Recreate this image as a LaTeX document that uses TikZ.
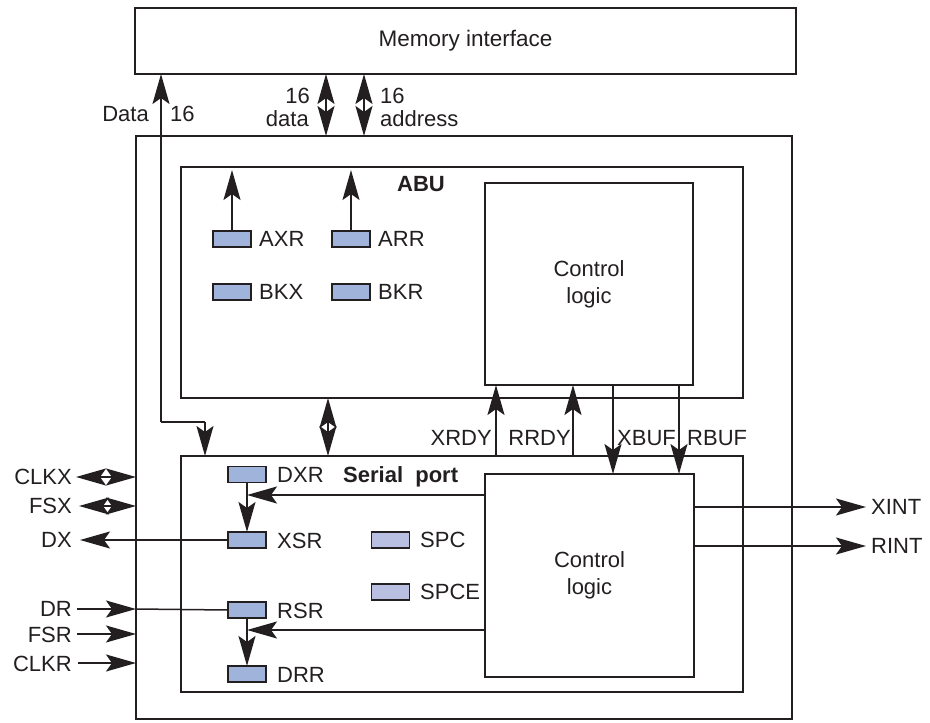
\documentclass[tikz,border=0pt]{standalone}
\usepackage{fontspec}
\setmainfont{Liberation Sans}
\usetikzlibrary{arrows.meta}
\definecolor{ink}{HTML}{231F20}
\definecolor{regfill}{HTML}{9FB3DB}
\definecolor{ctlfill}{HTML}{B9BFE1}
\begin{document}
\begin{tikzpicture}[x=1pt,y=-1pt,
  >={Stealth[length=30pt,width=17pt,inset=6pt]},
  every node/.style={font=\fontsize{22}{27}\selectfont, text=ink},
  box/.style={draw=ink, line width=1.7pt, rectangle, inner sep=0pt, outer sep=0pt},
  reg/.style={draw=ink, line width=1.4pt, fill=regfill, minimum width=38pt, minimum height=16pt, inner sep=0pt, outer sep=0pt},
  ctlreg/.style={reg, fill=ctlfill},
  lbl/.style={inner sep=0pt, anchor=west},
  rlbl/.style={inner sep=0pt, anchor=east},
  wire/.style={draw=ink, line width=1.5pt}]
\useasboundingbox (0,0) rectangle (930,723);
\fill[white] (0,0) rectangle (930,723);

% main boxes
\node[box, minimum width=661pt, minimum height=66pt, font=\fontsize{22.5}{27}\selectfont] (mem) at (465.5,41) {Memory interface};
\node[box, minimum width=656pt, minimum height=583pt] (outer) at (464,427.5) {};
\node[box, minimum width=562pt, minimum height=231pt] (abu) at (462,282.5) {};
\node[box, minimum width=208pt, minimum height=202pt, align=center] (actl) at (589,284) {Control\\logic};
\node[box, minimum width=562pt, minimum height=236pt] (sp) at (462,574) {};
\node[box, minimum width=209pt, minimum height=203pt, align=center] (sctl) at (589.5,575.5) {Control\\logic};

\node[inner sep=0pt, font=\bfseries\fontsize{22}{27}\selectfont] (abulbl) at (421,184) {ABU};
\node[lbl, font=\bfseries\fontsize{22}{27}\selectfont] (splbl) at (343,477) {Serial\ \ port};

% registers ABU
\node[reg] (axr) at (232,239) {};
\node[reg] (arr) at (351,239) {};
\node[reg] (bkx) at (232,292) {};
\node[reg] (bkr) at (351,292) {};
\node[lbl] (axrl) at (259,239) {AXR};
\node[lbl] (arrl) at (378,239) {ARR};
\node[lbl] (bkxl) at (259,292) {BKX};
\node[lbl] (bkrl) at (378,292) {BKR};

% registers serial
\node[reg] (dxr) at (247,474.5) {};
\node[reg] (xsr) at (247,540) {};
\node[ctlreg] (spc) at (390.5,540) {};
\node[ctlreg] (spce) at (390.5,592) {};
\node[reg] (rsr) at (247,610) {};
\node[reg] (drr) at (247,674) {};
\node[lbl] (dxrl) at (277,475) {DXR};
\node[lbl] (xsrl) at (277,541) {XSR};
\node[lbl] (spcl) at (420,540) {SPC};
\node[lbl] (spcel) at (420,592) {SPCE};
\node[lbl] (rsrl) at (277,611) {RSR};
\node[lbl] (drrl) at (277,675) {DRR};

% coordinates
\coordinate (axrT) at (232,170);
\coordinate (arrT) at (351,170);
\coordinate (d1) at (161,422);
\coordinate (d2) at (205,422);
\coordinate (memD) at (161,74);
\coordinate (m1b) at (326,74);
\coordinate (m1t) at (326,136);
\coordinate (m2b) at (364,74);
\coordinate (m2t) at (364,136);
\coordinate (abuS) at (328,398);
\coordinate (spA) at (328,456);
\coordinate (spD) at (205,456);

% ABU arrows
\draw[wire,->] (axr.north) -- (axrT);
\draw[wire,->] (arr.north) -- (arrT);

% memory links
\draw[wire,->] (d1) -- (memD);
\draw[wire] (d1) -- (d2);
\draw[wire,->] (d2) -- (spD);
\draw[wire,<->] (m1b) -- (m1t);
\draw[wire,<->] (m2b) -- (m2t);
\draw[wire,<->] (abuS) -- (spA);

\node[rlbl] (datal) at (149,114) {Data};
\node[lbl] (d16l) at (170,114) {16};
\node[inner sep=0pt, anchor=base east] (m16a) at (310,103) {16};
\node[inner sep=0pt, anchor=base east] (mdata) at (309,126) {data};
\node[inner sep=0pt, anchor=base west] (m16b) at (380,103) {16};
\node[inner sep=0pt, anchor=base west] (maddr) at (380,126) {address};

% handshake
\coordinate (xrdyB) at (496,456);
\coordinate (xrdyT) at (496,385);
\coordinate (rrdyB) at (573,456);
\coordinate (rrdyT) at (573,385);
\coordinate (xbufT) at (613,385);
\coordinate (xbufB) at (613,474);
\coordinate (rbufT) at (679,385);
\coordinate (rbufB) at (679,474);
\draw[wire,->] (xrdyB) -- (xrdyT);
\draw[wire,->] (rrdyB) -- (rrdyT);
\draw[wire,->] (xbufT) -- (xbufB);
\draw[wire,->] (rbufT) -- (rbufB);
\node[rlbl] (xrdyl) at (492,438) {XRDY};
\node[rlbl] (rrdyl) at (571,438) {RRDY};
\node[lbl] (xbufl) at (617,438) {XBUF};
\node[lbl] (rbufl) at (687,438) {RBUF};

% interrupts
\coordinate (xintS) at (694,507);
\coordinate (xintE) at (866,507);
\coordinate (rintS) at (694,546);
\coordinate (rintE) at (866,546);
\draw[wire,->] (xintS) -- (xintE);
\draw[wire,->] (rintS) -- (rintE);
\node[lbl] (xintl) at (871,507) {XINT};
\node[lbl] (rintl) at (871,546) {RINT};

% serial internal
\coordinate (dxrIn) at (485,495);
\coordinate (dxrJ) at (247,495);
\coordinate (rsrIn) at (485,630);
\coordinate (rsrJ) at (247,630);
\draw[wire,->] (dxrIn) -- (dxrJ);
\draw[wire,->] (rsrIn) -- (rsrJ);
\draw[wire,->] (dxr.south) -- (xsr.north);
\draw[wire,->] (rsr.south) -- (drr.north);

% external pins
\coordinate (clkxL) at (76,477);
\coordinate (clkxR) at (136,477);
\coordinate (fsxL) at (79,506);
\coordinate (fsxR) at (136,506);
\coordinate (dxL) at (80,540);
\coordinate (drL) at (77,609);
\coordinate (drM) at (136,609);
\coordinate (fsrL) at (77,634);
\coordinate (fsrR) at (136,634);
\coordinate (clkrL) at (78,663);
\coordinate (clkrR) at (136,663);
\draw[wire,<->] (clkxL) -- (clkxR);
\draw[wire,<->] (fsxL) -- (fsxR);
\draw[wire,->] (xsr.west) -- (dxL);
\draw[wire,->] (drL) -- (drM);
\draw[wire] (drM) -- (rsr.west);
\draw[wire,->] (fsrL) -- (fsrR);
\draw[wire,->] (clkrL) -- (clkrR);
\node[rlbl] (clkxl) at (72,477) {CLKX};
\node[rlbl] (fsxl) at (72,506) {FSX};
\node[rlbl] (dxl) at (72,540) {DX};
\node[rlbl] (drl) at (72,609) {DR};
\node[rlbl] (fsrl) at (72,635) {FSR};
\node[rlbl] (clkrl) at (72,664) {CLKR};
\end{tikzpicture}
\end{document}
